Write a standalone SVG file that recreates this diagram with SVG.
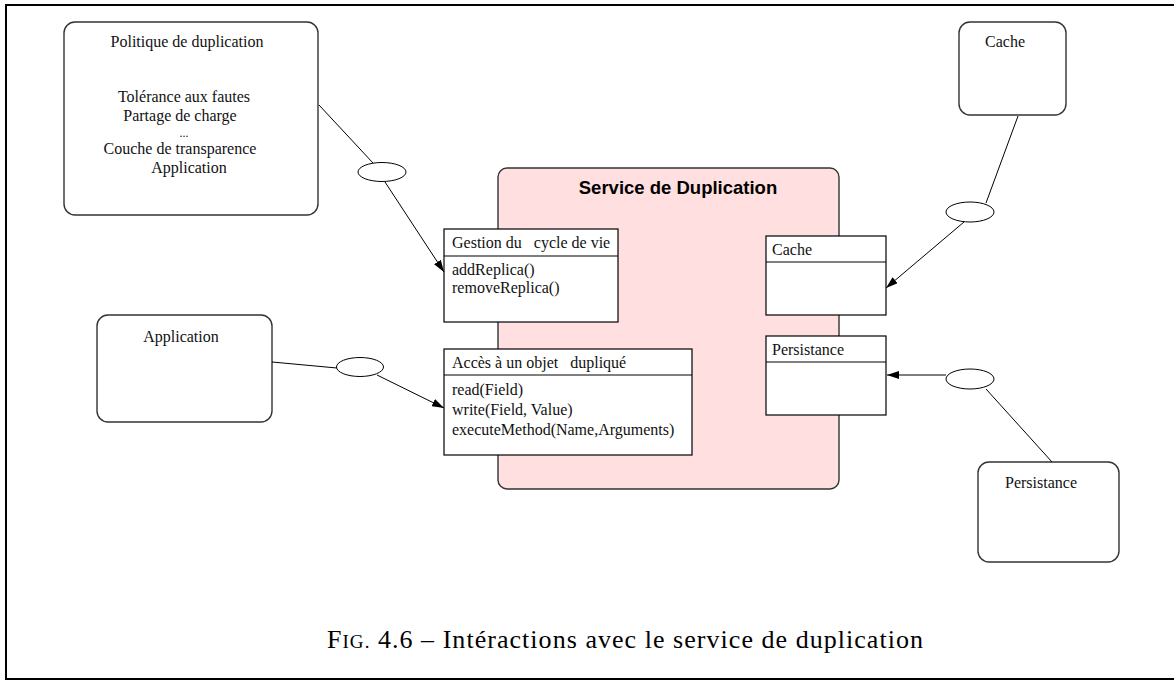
<svg xmlns="http://www.w3.org/2000/svg" width="1174" height="681" viewBox="0 0 1174 681">
<style>
.t{font-family:"Liberation Serif","Times New Roman",serif;font-size:16px;fill:#111}
.ext{fill:#fff;stroke:#333;stroke-width:1.4}
.cls{fill:#fff;stroke:#000;stroke-width:1.2}
.div{stroke:#000;stroke-width:1.2}
.conn{fill:none;stroke:#000;stroke-width:1}
.ell{fill:#fff;stroke:#000;stroke-width:1}
</style>
<defs>
<marker id="arr" viewBox="0 0 12 8" refX="12" refY="4" markerWidth="12" markerHeight="8" markerUnits="userSpaceOnUse" orient="auto">
<path d="M0,0 L12,4 L0,8 z" fill="#000"/>
</marker>
</defs>
<rect x="0" y="0" width="1174" height="681" fill="#fff"/>
<rect x="6" y="5" width="1170" height="674" fill="none" stroke="#000" stroke-width="2"/>

<g id="service">
<rect x="498" y="168" width="341" height="321" rx="9" fill="#ffdfdf" stroke="#333" stroke-width="1.4"/>
<text x="678" y="194" text-anchor="middle" style="font-family:'Liberation Sans',Arial,sans-serif;font-size:18.5px;font-weight:bold;fill:#000">Service de Duplication</text>
</g>

<g id="politique">
<rect class="ext" x="64" y="22" width="254" height="193" rx="11"/>
<text class="t" x="187" y="47" text-anchor="middle">Politique de duplication</text>
<text class="t" x="184" y="102" text-anchor="middle">Tolérance aux fautes</text>
<text class="t" x="180" y="121" text-anchor="middle">Partage de charge</text>
<text class="t" x="184" y="137" text-anchor="middle" style="font-size:12px">...</text>
<text class="t" x="180" y="154" text-anchor="middle">Couche de transparence</text>
<text class="t" x="189" y="173" text-anchor="middle">Application</text>
</g>

<g id="cache-ext">
<rect class="ext" x="959" y="22" width="107" height="93" rx="11"/>
<text class="t" x="1005" y="47" text-anchor="middle">Cache</text>
</g>

<g id="application">
<rect class="ext" x="97" y="315" width="175" height="107" rx="11"/>
<text class="t" x="181" y="342" text-anchor="middle">Application</text>
</g>

<g id="persistance-ext">
<rect class="ext" x="978" y="462" width="141" height="100" rx="11"/>
<text class="t" x="1041" y="488" text-anchor="middle">Persistance</text>
</g>

<g id="gestion">
<rect class="cls" x="444" y="229" width="174" height="93"/>
<line class="div" x1="444" y1="256" x2="618" y2="256"/>
<text class="t" x="452" y="248" xml:space="preserve">Gestion du   cycle de vie</text>
<text class="t" x="452" y="275">addReplica()</text>
<text class="t" x="452" y="293">removeReplica()</text>
</g>

<g id="acces">
<rect class="cls" x="444" y="349" width="248" height="106"/>
<line class="div" x1="444" y1="375" x2="692" y2="375"/>
<text class="t" x="452" y="368" xml:space="preserve">Accès à un objet   dupliqué</text>
<text class="t" x="452" y="395">read(Field)</text>
<text class="t" x="452" y="415">write(Field, Value)</text>
<text class="t" x="452" y="435">executeMethod(Name,Arguments)</text>
</g>

<g id="cache">
<rect class="cls" x="766" y="236" width="120" height="79"/>
<line class="div" x1="766" y1="262" x2="886" y2="262"/>
<text class="t" x="772" y="255">Cache</text>
</g>

<g id="persistance">
<rect class="cls" x="766" y="336" width="120" height="79"/>
<line class="div" x1="766" y1="362" x2="886" y2="362"/>
<text class="t" x="772" y="355">Persistance</text>
</g>

<g id="connectors">
<line class="conn" x1="319" y1="105" x2="373" y2="163"/>
<line class="conn" x1="385" y1="182" x2="444" y2="272" marker-end="url(#arr)"/>
<line class="conn" x1="272" y1="362" x2="337" y2="368"/>
<line class="conn" x1="377" y1="375" x2="444" y2="408" marker-end="url(#arr)"/>
<line class="conn" x1="1018" y1="116" x2="986" y2="203"/>
<line class="conn" x1="964" y1="222" x2="886" y2="288" marker-end="url(#arr)"/>
<line class="conn" x1="946" y1="375" x2="887" y2="375" marker-end="url(#arr)"/>
<line class="conn" x1="986" y1="389" x2="1052" y2="462"/>
<ellipse class="ell" cx="382" cy="172" rx="24" ry="9.5"/>
<ellipse class="ell" cx="360" cy="367" rx="23.5" ry="9.5"/>
<ellipse class="ell" cx="970" cy="212" rx="24" ry="10"/>
<ellipse class="ell" cx="970" cy="379" rx="24" ry="10"/>
</g>

<text x="327" y="648" textLength="596" lengthAdjust="spacing" style="font-family:'Liberation Serif','Times New Roman',serif;font-size:26px;fill:#000">F<tspan style="font-size:19px">IG.</tspan> 4.6 – Intéractions avec le service de duplication</text>
</svg>
